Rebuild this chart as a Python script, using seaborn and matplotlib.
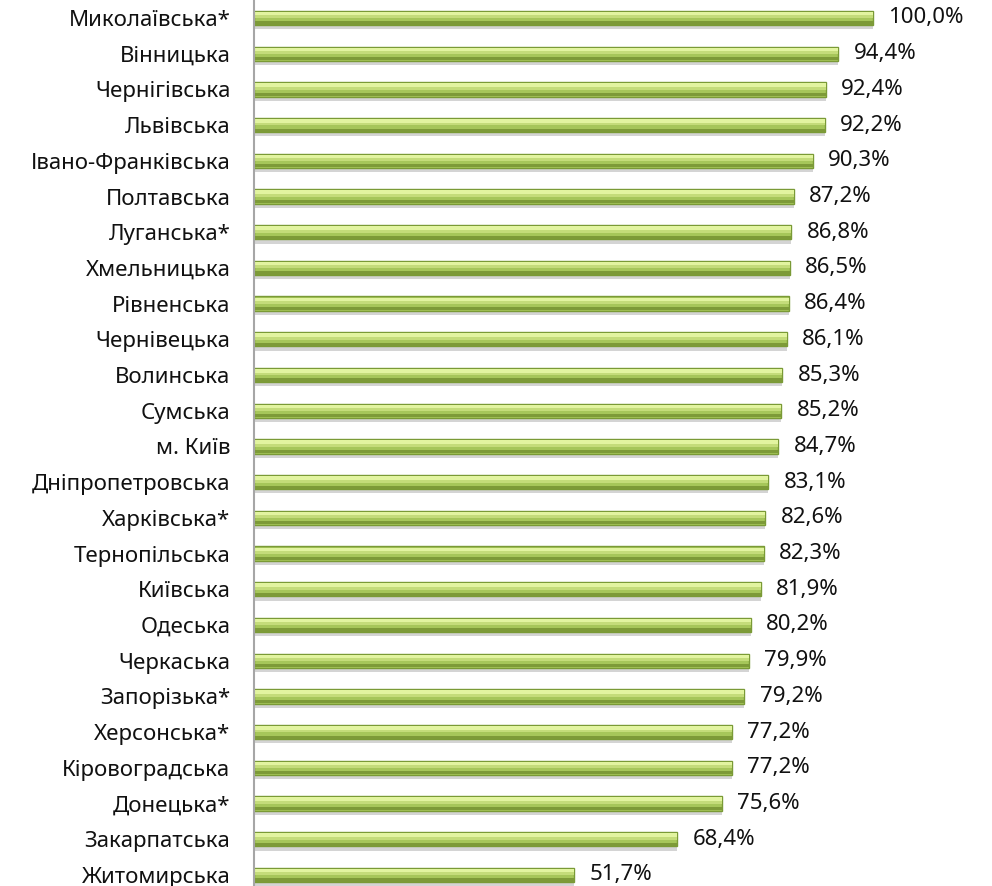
import numpy as np
import pandas as pd
import matplotlib
matplotlib.use("Agg")
import matplotlib.pyplot as plt
import matplotlib.patheffects as pe
import seaborn as sns

# Regions and shares (%)
regions = ["Миколаївська*", "Вінницька", "Чернігівська", "Львівська",
           "Івано-Франківська", "Полтавська", "Луганська*", "Хмельницька",
           "Рівненська", "Чернівецька", "Волинська", "Сумська", "м. Київ",
           "Дніпропетровська", "Харківська*", "Тернопільська", "Київська",
           "Одеська", "Черкаська", "Запорізька*", "Херсонська*",
           "Кіровоградська", "Донецька*", "Закарпатська", "Житомирська"]
values = [100.0, 94.4, 92.4, 92.2, 90.3, 87.2, 86.8, 86.5, 86.4, 86.1,
          85.3, 85.2, 84.7, 83.1, 82.6, 82.3, 81.9, 80.2, 79.9, 79.2,
          77.2, 77.2, 75.6, 68.4, 51.7]

df = pd.DataFrame({"region": regions, "value": values})

sns.set_style("white")
plt.rcParams["font.family"] = ["Noto Sans", "DejaVu Sans"]

fig = plt.figure(figsize=(9.92, 8.86), dpi=100)
ax = fig.add_axes([0.256, 0.0, 0.744, 1.0])

sns.barplot(data=df, x="value", y="region", orient="h", color="#a6c65a",
            saturation=1, width=0.4, edgecolor="#7a9a36", linewidth=1.0, ax=ax)

for bar in ax.patches:
    bar.set_path_effects([pe.SimplePatchShadow(offset=(0, -3), shadow_rgbFace="#a0a0a0", alpha=0.45),
                          pe.Normal()])
main = ax.containers[0]

# glossy look: pale band on top, darker band at the bottom
pos = np.arange(len(values))
ax.barh(pos - 0.12, values, height=0.1, color="#e2f4a0", linewidth=0)
ax.barh(pos - 0.03, values, height=0.08, color="#c4dc7a", linewidth=0)
ax.barh(pos + 0.14, values, height=0.09, color="#7d9a38", linewidth=0)

labels = [f"{v:.1f}%".replace(".", ",") for v in values]
ax.bar_label(main, labels=labels, padding=11, fontsize=16, color="#111111")

ax.set_xlim(0, 119.2)
ax.set_ylim(24.31, -0.504)
ax.set_xlabel("")
ax.set_ylabel("")
ax.set_xticks([])
ax.tick_params(axis="y", length=0, pad=17, labelsize=16, labelcolor="#111111")

for s in ["top", "right", "bottom"]:
    ax.spines[s].set_visible(False)
ax.spines["left"].set_color("#a6a6a6")
ax.spines["left"].set_linewidth(1.5)

plt.savefig("out.png", dpi=100)
